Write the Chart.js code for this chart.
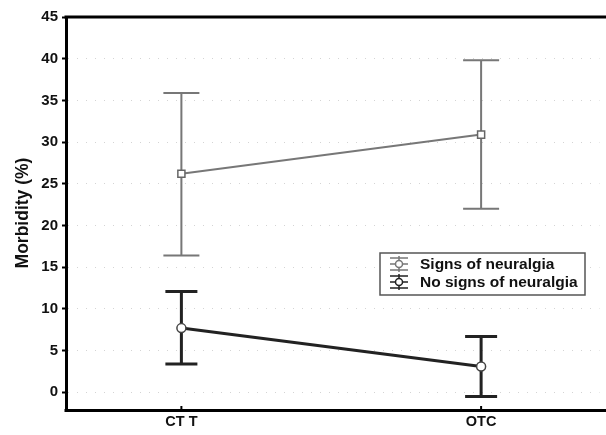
<!DOCTYPE html>
<html>
<head>
<meta charset="utf-8">
<script src="https://cdn.jsdelivr.net/npm/chart.js@4/dist/chart.umd.min.js"></script>
<style>
  html, body { margin: 0; padding: 0; background: #fff; overflow: hidden; }
  #wrap { width: 606px; height: 435px; }
</style>
</head>
<body>
<div id="wrap"><canvas id="chart" width="606" height="435"></canvas></div>
<script>
const categories = ["CT T", "OTC"];
const seriesNames = ["Signs of neuralgia", "No signs of neuralgia"];
const signsMean = [26.2, 30.9];
const signsLow = [16.4, 22.0];
const signsHigh = [35.9, 39.8];
const noSignsMean = [7.7, 3.1];
const noSignsLow = [3.4, -0.5];
const noSignsHigh = [12.1, 6.7];
const yTicks = [0, 5, 10, 15, 20, 25, 30, 35, 40, 45];

const colors = ["#777777", "#222222"];
const widths = [2, 3];
const lows = [signsLow, noSignsLow];
const highs = [signsHigh, noSignsHigh];
const FONT = "'Liberation Sans', Arial, sans-serif";

function points(vals) {
  return vals.map((v, i) => ({ x: i, y: v }));
}

// error bars, frame lines, inner x ticks and legend
const extras = {
  id: "extras",
  beforeDatasetsDraw(chart) {
    const { ctx, scales: { x, y } } = chart;
    ctx.save();
    [0, 1].forEach(s => {
      ctx.strokeStyle = colors[s];
      ctx.lineWidth = widths[s];
      const cap = s === 0 ? 18 : 16;
      categories.forEach((c, i) => {
        const px = x.getPixelForValue(i);
        const top = y.getPixelForValue(highs[s][i]);
        const bot = y.getPixelForValue(lows[s][i]);
        ctx.beginPath();
        ctx.moveTo(px, top); ctx.lineTo(px, bot);
        ctx.moveTo(px - cap, top); ctx.lineTo(px + cap, top);
        ctx.moveTo(px - cap, bot); ctx.lineTo(px + cap, bot);
        ctx.stroke();
      });
    });
    ctx.restore();
  },
  afterDraw(chart) {
    const { ctx, chartArea, scales: { x } } = chart;
    ctx.save();
    ctx.strokeStyle = "#000";
    ctx.lineWidth = 3;
    ctx.beginPath();
    ctx.moveTo(chartArea.left - 1.5, chartArea.top);
    ctx.lineTo(chart.width, chartArea.top);
    ctx.moveTo(chartArea.left - 1.5, chartArea.bottom + 1.5);
    ctx.lineTo(chart.width, chartArea.bottom + 1.5);
    ctx.stroke();
    ctx.lineWidth = 2;
    ctx.beginPath();
    categories.forEach((c, i) => {
      const px = x.getPixelForValue(i);
      ctx.moveTo(px, chartArea.bottom - 3);
      ctx.lineTo(px, chartArea.bottom);
    });
    ctx.stroke();

    // legend box
    const lx = 380, ly = 253, lw = 205, lh = 42;
    ctx.fillStyle = "#fff";
    ctx.fillRect(lx, ly, lw, lh);
    ctx.strokeStyle = "#555";
    ctx.lineWidth = 1.5;
    ctx.strokeRect(lx, ly, lw, lh);
    ctx.font = "bold 15.5px " + FONT;
    ctx.textBaseline = "middle";
    seriesNames.forEach((name, s) => {
      const cy = ly + 11 + s * 18;
      const sx = lx + 19;
      ctx.strokeStyle = colors[s];
      ctx.lineWidth = 1.5;
      ctx.beginPath();
      ctx.moveTo(sx - 9, cy - 6); ctx.lineTo(sx + 9, cy - 6);
      ctx.moveTo(sx - 9, cy + 6); ctx.lineTo(sx + 9, cy + 6);
      ctx.moveTo(sx - 9, cy); ctx.lineTo(sx + 9, cy);
      ctx.moveTo(sx, cy - 8); ctx.lineTo(sx, cy + 8);
      ctx.stroke();
      ctx.fillStyle = "#fff";
      ctx.beginPath(); ctx.arc(sx, cy, 3.5, 0, Math.PI * 2); ctx.fill(); ctx.stroke();
      ctx.fillStyle = "#111";
      ctx.fillText(name, lx + 40, cy + 1);
    });
    ctx.restore();
  }
};

const chart = new Chart(document.getElementById("chart"), {
  type: "line",
  data: {
    datasets: [
      {
        label: seriesNames[0],
        data: points(signsMean),
        borderColor: colors[0],
        borderWidth: widths[0],
        pointStyle: "rect",
        pointRadius: 5,
        pointBackgroundColor: "#fff",
        pointBorderColor: "#666",
        pointBorderWidth: 1.5
      },
      {
        label: seriesNames[1],
        data: points(noSignsMean),
        borderColor: colors[1],
        borderWidth: widths[1],
        pointStyle: "circle",
        pointRadius: 4.5,
        pointBackgroundColor: "#fff",
        pointBorderColor: "#444",
        pointBorderWidth: 1.5
      }
    ]
  },
  options: {
    responsive: false,
    animation: false,
    layout: { padding: { top: 17, left: 0, right: 0, bottom: 0 } },
    plugins: { legend: { display: false }, tooltip: { enabled: false } },
    scales: {
      x: {
        type: "linear",
        min: -0.385,
        max: 1.395,
        afterBuildTicks: s => { s.ticks = categories.map((c, i) => ({ value: i })); },
        afterFit: s => { s.height = 26; },
        ticks: {
          callback: v => categories[v],
          color: "#111",
          font: { family: FONT, size: 14.5, weight: "bold" },
          padding: -4
        },
        grid: { display: false },
        border: { display: false }
      },
      y: {
        min: -2,
        max: 45,
        afterBuildTicks: s => { s.ticks = yTicks.map(v => ({ value: v })); },
        afterFit: s => { s.width = 66; },
        ticks: {
          color: "#111",
          font: { family: FONT, size: 15, weight: "bold" },
          padding: 4
        },
        grid: {
          color: "#d4d4d4",
          lineWidth: 1,
          tickLength: 4,
          tickColor: "#000",
          tickWidth: 2,
          tickBorderDash: []
        },
        border: { color: "#000", width: 3, dash: [1, 8] },
        title: {
          display: true,
          text: "Morbidity (%)",
          color: "#111",
          font: { family: FONT, size: 17.5, weight: "bold" },
          padding: { top: 13, bottom: 0 }
        }
      }
    }
  },
  plugins: [extras]
});
</script>
</body>
</html>
